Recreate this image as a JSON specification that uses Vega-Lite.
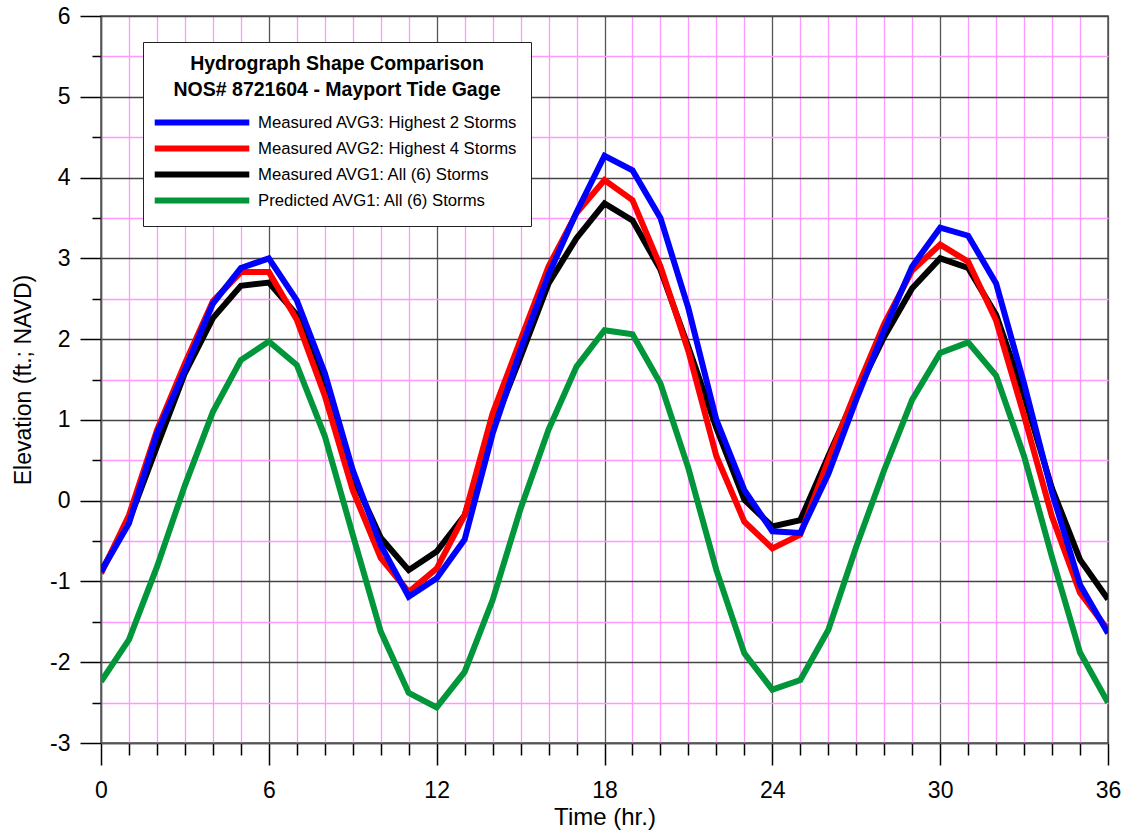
{
  "$schema": "https://vega.github.io/schema/vega-lite/v6.json",
  "width": 1007,
  "height": 727,
  "autosize": {"type": "none"},
  "padding": {"left": 101, "top": 16, "right": 19, "bottom": 92},
  "background": "white",
  "config": {
    "font": "Liberation Sans",
    "view": {"stroke": "#555555", "strokeWidth": 1.5}
  },
  "datasets": {
    "hydro": [
      {"series": "Predicted AVG1: All (6) Storms", "time": 0, "elevation": -2.24},
      {"series": "Predicted AVG1: All (6) Storms", "time": 1, "elevation": -1.72},
      {"series": "Predicted AVG1: All (6) Storms", "time": 2, "elevation": -0.82},
      {"series": "Predicted AVG1: All (6) Storms", "time": 3, "elevation": 0.19},
      {"series": "Predicted AVG1: All (6) Storms", "time": 4, "elevation": 1.1},
      {"series": "Predicted AVG1: All (6) Storms", "time": 5, "elevation": 1.74},
      {"series": "Predicted AVG1: All (6) Storms", "time": 6, "elevation": 1.97},
      {"series": "Predicted AVG1: All (6) Storms", "time": 7, "elevation": 1.68},
      {"series": "Predicted AVG1: All (6) Storms", "time": 8, "elevation": 0.8},
      {"series": "Predicted AVG1: All (6) Storms", "time": 9, "elevation": -0.42},
      {"series": "Predicted AVG1: All (6) Storms", "time": 10, "elevation": -1.62},
      {"series": "Predicted AVG1: All (6) Storms", "time": 11, "elevation": -2.38},
      {"series": "Predicted AVG1: All (6) Storms", "time": 12, "elevation": -2.56},
      {"series": "Predicted AVG1: All (6) Storms", "time": 13, "elevation": -2.12},
      {"series": "Predicted AVG1: All (6) Storms", "time": 14, "elevation": -1.23},
      {"series": "Predicted AVG1: All (6) Storms", "time": 15, "elevation": -0.1},
      {"series": "Predicted AVG1: All (6) Storms", "time": 16, "elevation": 0.88},
      {"series": "Predicted AVG1: All (6) Storms", "time": 17, "elevation": 1.66},
      {"series": "Predicted AVG1: All (6) Storms", "time": 18, "elevation": 2.11},
      {"series": "Predicted AVG1: All (6) Storms", "time": 19, "elevation": 2.06},
      {"series": "Predicted AVG1: All (6) Storms", "time": 20, "elevation": 1.45},
      {"series": "Predicted AVG1: All (6) Storms", "time": 21, "elevation": 0.4},
      {"series": "Predicted AVG1: All (6) Storms", "time": 22, "elevation": -0.86},
      {"series": "Predicted AVG1: All (6) Storms", "time": 23, "elevation": -1.89},
      {"series": "Predicted AVG1: All (6) Storms", "time": 24, "elevation": -2.34},
      {"series": "Predicted AVG1: All (6) Storms", "time": 25, "elevation": -2.22},
      {"series": "Predicted AVG1: All (6) Storms", "time": 26, "elevation": -1.6},
      {"series": "Predicted AVG1: All (6) Storms", "time": 27, "elevation": -0.57},
      {"series": "Predicted AVG1: All (6) Storms", "time": 28, "elevation": 0.38},
      {"series": "Predicted AVG1: All (6) Storms", "time": 29, "elevation": 1.25},
      {"series": "Predicted AVG1: All (6) Storms", "time": 30, "elevation": 1.83},
      {"series": "Predicted AVG1: All (6) Storms", "time": 31, "elevation": 1.96},
      {"series": "Predicted AVG1: All (6) Storms", "time": 32, "elevation": 1.55},
      {"series": "Predicted AVG1: All (6) Storms", "time": 33, "elevation": 0.55},
      {"series": "Predicted AVG1: All (6) Storms", "time": 34, "elevation": -0.7},
      {"series": "Predicted AVG1: All (6) Storms", "time": 35, "elevation": -1.88},
      {"series": "Predicted AVG1: All (6) Storms", "time": 36, "elevation": -2.5},
      {"series": "Measured AVG1: All (6) Storms", "time": 0, "elevation": -0.88},
      {"series": "Measured AVG1: All (6) Storms", "time": 1, "elevation": -0.25},
      {"series": "Measured AVG1: All (6) Storms", "time": 2, "elevation": 0.67},
      {"series": "Measured AVG1: All (6) Storms", "time": 3, "elevation": 1.58},
      {"series": "Measured AVG1: All (6) Storms", "time": 4, "elevation": 2.26},
      {"series": "Measured AVG1: All (6) Storms", "time": 5, "elevation": 2.66},
      {"series": "Measured AVG1: All (6) Storms", "time": 6, "elevation": 2.7},
      {"series": "Measured AVG1: All (6) Storms", "time": 7, "elevation": 2.3},
      {"series": "Measured AVG1: All (6) Storms", "time": 8, "elevation": 1.41},
      {"series": "Measured AVG1: All (6) Storms", "time": 9, "elevation": 0.3},
      {"series": "Measured AVG1: All (6) Storms", "time": 10, "elevation": -0.46},
      {"series": "Measured AVG1: All (6) Storms", "time": 11, "elevation": -0.86},
      {"series": "Measured AVG1: All (6) Storms", "time": 12, "elevation": -0.63},
      {"series": "Measured AVG1: All (6) Storms", "time": 13, "elevation": -0.18},
      {"series": "Measured AVG1: All (6) Storms", "time": 14, "elevation": 0.9},
      {"series": "Measured AVG1: All (6) Storms", "time": 15, "elevation": 1.78},
      {"series": "Measured AVG1: All (6) Storms", "time": 16, "elevation": 2.69},
      {"series": "Measured AVG1: All (6) Storms", "time": 17, "elevation": 3.25},
      {"series": "Measured AVG1: All (6) Storms", "time": 18, "elevation": 3.68},
      {"series": "Measured AVG1: All (6) Storms", "time": 19, "elevation": 3.47},
      {"series": "Measured AVG1: All (6) Storms", "time": 20, "elevation": 2.86},
      {"series": "Measured AVG1: All (6) Storms", "time": 21, "elevation": 1.9},
      {"series": "Measured AVG1: All (6) Storms", "time": 22, "elevation": 0.9},
      {"series": "Measured AVG1: All (6) Storms", "time": 23, "elevation": 0.01},
      {"series": "Measured AVG1: All (6) Storms", "time": 24, "elevation": -0.32},
      {"series": "Measured AVG1: All (6) Storms", "time": 25, "elevation": -0.24},
      {"series": "Measured AVG1: All (6) Storms", "time": 26, "elevation": 0.55},
      {"series": "Measured AVG1: All (6) Storms", "time": 27, "elevation": 1.32},
      {"series": "Measured AVG1: All (6) Storms", "time": 28, "elevation": 2.03},
      {"series": "Measured AVG1: All (6) Storms", "time": 29, "elevation": 2.63},
      {"series": "Measured AVG1: All (6) Storms", "time": 30, "elevation": 3.0},
      {"series": "Measured AVG1: All (6) Storms", "time": 31, "elevation": 2.88},
      {"series": "Measured AVG1: All (6) Storms", "time": 32, "elevation": 2.3},
      {"series": "Measured AVG1: All (6) Storms", "time": 33, "elevation": 1.3},
      {"series": "Measured AVG1: All (6) Storms", "time": 34, "elevation": 0.15},
      {"series": "Measured AVG1: All (6) Storms", "time": 35, "elevation": -0.73},
      {"series": "Measured AVG1: All (6) Storms", "time": 36, "elevation": -1.22},
      {"series": "Measured AVG2: Highest 4 Storms", "time": 0, "elevation": -0.9},
      {"series": "Measured AVG2: Highest 4 Storms", "time": 1, "elevation": -0.18},
      {"series": "Measured AVG2: Highest 4 Storms", "time": 2, "elevation": 0.87},
      {"series": "Measured AVG2: Highest 4 Storms", "time": 3, "elevation": 1.7},
      {"series": "Measured AVG2: Highest 4 Storms", "time": 4, "elevation": 2.47},
      {"series": "Measured AVG2: Highest 4 Storms", "time": 5, "elevation": 2.83},
      {"series": "Measured AVG2: Highest 4 Storms", "time": 6, "elevation": 2.83},
      {"series": "Measured AVG2: Highest 4 Storms", "time": 7, "elevation": 2.24},
      {"series": "Measured AVG2: Highest 4 Storms", "time": 8, "elevation": 1.3},
      {"series": "Measured AVG2: Highest 4 Storms", "time": 9, "elevation": 0.13},
      {"series": "Measured AVG2: Highest 4 Storms", "time": 10, "elevation": -0.71},
      {"series": "Measured AVG2: Highest 4 Storms", "time": 11, "elevation": -1.13},
      {"series": "Measured AVG2: Highest 4 Storms", "time": 12, "elevation": -0.84},
      {"series": "Measured AVG2: Highest 4 Storms", "time": 13, "elevation": -0.18},
      {"series": "Measured AVG2: Highest 4 Storms", "time": 14, "elevation": 1.08},
      {"series": "Measured AVG2: Highest 4 Storms", "time": 15, "elevation": 1.99},
      {"series": "Measured AVG2: Highest 4 Storms", "time": 16, "elevation": 2.9},
      {"series": "Measured AVG2: Highest 4 Storms", "time": 17, "elevation": 3.56},
      {"series": "Measured AVG2: Highest 4 Storms", "time": 18, "elevation": 3.97},
      {"series": "Measured AVG2: Highest 4 Storms", "time": 19, "elevation": 3.72},
      {"series": "Measured AVG2: Highest 4 Storms", "time": 20, "elevation": 2.9},
      {"series": "Measured AVG2: Highest 4 Storms", "time": 21, "elevation": 1.85},
      {"series": "Measured AVG2: Highest 4 Storms", "time": 22, "elevation": 0.55},
      {"series": "Measured AVG2: Highest 4 Storms", "time": 23, "elevation": -0.26},
      {"series": "Measured AVG2: Highest 4 Storms", "time": 24, "elevation": -0.59},
      {"series": "Measured AVG2: Highest 4 Storms", "time": 25, "elevation": -0.42},
      {"series": "Measured AVG2: Highest 4 Storms", "time": 26, "elevation": 0.5},
      {"series": "Measured AVG2: Highest 4 Storms", "time": 27, "elevation": 1.37},
      {"series": "Measured AVG2: Highest 4 Storms", "time": 28, "elevation": 2.19},
      {"series": "Measured AVG2: Highest 4 Storms", "time": 29, "elevation": 2.85},
      {"series": "Measured AVG2: Highest 4 Storms", "time": 30, "elevation": 3.17},
      {"series": "Measured AVG2: Highest 4 Storms", "time": 31, "elevation": 2.96},
      {"series": "Measured AVG2: Highest 4 Storms", "time": 32, "elevation": 2.23},
      {"series": "Measured AVG2: Highest 4 Storms", "time": 33, "elevation": 1.05},
      {"series": "Measured AVG2: Highest 4 Storms", "time": 34, "elevation": -0.2},
      {"series": "Measured AVG2: Highest 4 Storms", "time": 35, "elevation": -1.14},
      {"series": "Measured AVG2: Highest 4 Storms", "time": 36, "elevation": -1.6},
      {"series": "Measured AVG3: Highest 2 Storms", "time": 0, "elevation": -0.88},
      {"series": "Measured AVG3: Highest 2 Storms", "time": 1, "elevation": -0.28},
      {"series": "Measured AVG3: Highest 2 Storms", "time": 2, "elevation": 0.83},
      {"series": "Measured AVG3: Highest 2 Storms", "time": 3, "elevation": 1.62},
      {"series": "Measured AVG3: Highest 2 Storms", "time": 4, "elevation": 2.44},
      {"series": "Measured AVG3: Highest 2 Storms", "time": 5, "elevation": 2.88},
      {"series": "Measured AVG3: Highest 2 Storms", "time": 6, "elevation": 3.0},
      {"series": "Measured AVG3: Highest 2 Storms", "time": 7, "elevation": 2.48},
      {"series": "Measured AVG3: Highest 2 Storms", "time": 8, "elevation": 1.58},
      {"series": "Measured AVG3: Highest 2 Storms", "time": 9, "elevation": 0.38},
      {"series": "Measured AVG3: Highest 2 Storms", "time": 10, "elevation": -0.55},
      {"series": "Measured AVG3: Highest 2 Storms", "time": 11, "elevation": -1.19},
      {"series": "Measured AVG3: Highest 2 Storms", "time": 12, "elevation": -0.96},
      {"series": "Measured AVG3: Highest 2 Storms", "time": 13, "elevation": -0.48},
      {"series": "Measured AVG3: Highest 2 Storms", "time": 14, "elevation": 0.83},
      {"series": "Measured AVG3: Highest 2 Storms", "time": 15, "elevation": 1.87},
      {"series": "Measured AVG3: Highest 2 Storms", "time": 16, "elevation": 2.8},
      {"series": "Measured AVG3: Highest 2 Storms", "time": 17, "elevation": 3.57},
      {"series": "Measured AVG3: Highest 2 Storms", "time": 18, "elevation": 4.27},
      {"series": "Measured AVG3: Highest 2 Storms", "time": 19, "elevation": 4.09},
      {"series": "Measured AVG3: Highest 2 Storms", "time": 20, "elevation": 3.5},
      {"series": "Measured AVG3: Highest 2 Storms", "time": 21, "elevation": 2.38},
      {"series": "Measured AVG3: Highest 2 Storms", "time": 22, "elevation": 1.0},
      {"series": "Measured AVG3: Highest 2 Storms", "time": 23, "elevation": 0.13},
      {"series": "Measured AVG3: Highest 2 Storms", "time": 24, "elevation": -0.38},
      {"series": "Measured AVG3: Highest 2 Storms", "time": 25, "elevation": -0.4},
      {"series": "Measured AVG3: Highest 2 Storms", "time": 26, "elevation": 0.33},
      {"series": "Measured AVG3: Highest 2 Storms", "time": 27, "elevation": 1.25},
      {"series": "Measured AVG3: Highest 2 Storms", "time": 28, "elevation": 2.11},
      {"series": "Measured AVG3: Highest 2 Storms", "time": 29, "elevation": 2.9},
      {"series": "Measured AVG3: Highest 2 Storms", "time": 30, "elevation": 3.38},
      {"series": "Measured AVG3: Highest 2 Storms", "time": 31, "elevation": 3.28},
      {"series": "Measured AVG3: Highest 2 Storms", "time": 32, "elevation": 2.69},
      {"series": "Measured AVG3: Highest 2 Storms", "time": 33, "elevation": 1.45},
      {"series": "Measured AVG3: Highest 2 Storms", "time": 34, "elevation": 0.1},
      {"series": "Measured AVG3: Highest 2 Storms", "time": 35, "elevation": -1.04},
      {"series": "Measured AVG3: Highest 2 Storms", "time": 36, "elevation": -1.64}
    ]
  },
  "data": {"name": "hydro"},
  "mark": {"type": "line", "strokeWidth": 6, "strokeJoin": "miter", "clip": true},
  "encoding": {
    "x": {
      "field": "time",
      "type": "quantitative",
      "scale": {"domain": [0, 36], "nice": false, "zero": false},
      "axis": {
        "title": "Time (hr.)",
        "titleFont": "Liberation Sans",
        "titleFontSize": 24,
        "titleFontWeight": "normal",
        "titleColor": "black",
        "titlePadding": 3,
        "values": [0,1,2,3,4,5,6,7,8,9,10,11,12,13,14,15,16,17,18,19,20,21,22,23,24,25,26,27,28,29,30,31,32,33,34,35,36],
        "labelExpr": "datum.value % 6 === 0 ? '' + datum.value : ''",
        "labelFontSize": 23,
        "labelColor": "black",
        "labelPadding": 14,
        "labelFlush": false,
        "labelOverlap": false,
        "tickColor": "black",
        "tickWidth": 1.5,
        "tickSize": {"condition": {"test": "datum.value % 6 === 0", "value": 22}, "value": 12},
        "domainColor": "#555555",
        "domainWidth": 1.5,
        "grid": true,
        "gridColor": {"condition": {"test": "datum.value % 6 === 0", "value": "#555555"}, "value": "#ff99ff"},
        "gridWidth": 1.3,
        "gridOpacity": 1
      }
    },
    "y": {
      "field": "elevation",
      "type": "quantitative",
      "scale": {"domain": [-3, 6], "nice": false, "zero": false},
      "axis": {
        "title": "Elevation (ft.; NAVD)",
        "titleFont": "Liberation Sans",
        "titleFontSize": 23,
        "titleFontWeight": "normal",
        "titleColor": "black",
        "titlePadding": 14,
        "values": [-3,-2.5,-2,-1.5,-1,-0.5,0,0.5,1,1.5,2,2.5,3,3.5,4,4.5,5,5.5,6],
        "labelExpr": "datum.value % 1 === 0 ? '' + datum.value : ''",
        "labelFontSize": 23,
        "labelColor": "black",
        "labelPadding": 10,
        "labelFlush": false,
        "labelOverlap": false,
        "tickColor": "black",
        "tickWidth": 1.5,
        "tickSize": {"condition": {"test": "datum.value % 1 === 0", "value": 21}, "value": 9},
        "domainColor": "#555555",
        "domainWidth": 1.5,
        "grid": true,
        "gridColor": {"condition": {"test": "datum.value % 1 === 0", "value": "#444444"}, "value": "#ff99ff"},
        "gridWidth": 1.3,
        "gridOpacity": 1
      }
    },
    "color": {
      "field": "series",
      "type": "nominal",
      "scale": {
        "domain": ["Measured AVG3: Highest 2 Storms", "Measured AVG2: Highest 4 Storms", "Measured AVG1: All (6) Storms", "Predicted AVG1: All (6) Storms"],
        "range": ["#0000ff", "#ff0000", "#000000", "#009639"]
      },
      "legend": {
        "orient": "none",
        "legendX": 42,
        "legendY": 26,
        "title": ["Hydrograph Shape Comparison", "NOS# 8721604 - Mayport Tide Gage"],
        "titleFont": "Liberation Sans",
        "titleFontSize": 19.5,
        "titleFontWeight": "bold",
        "titleColor": "black",
        "titleAlign": "center",
        "titleAnchor": "middle",
        "titleLineHeight": 26,
        "titlePadding": 8,
        "titleLimit": 600,
        "labelFont": "Liberation Sans",
        "labelFontSize": 16.7,
        "labelColor": "black",
        "labelLimit": 400,
        "labelOffset": 42,
        "symbolType": "M-4.4,0H4.4",
        "symbolSize": 462,
        "symbolOffset": 32,
        "symbolStrokeWidth": 6,
        "rowPadding": 0,
        "padding": 13,
        "fillColor": "white",
        "strokeColor": "#222222"
      }
    }
  }
}
